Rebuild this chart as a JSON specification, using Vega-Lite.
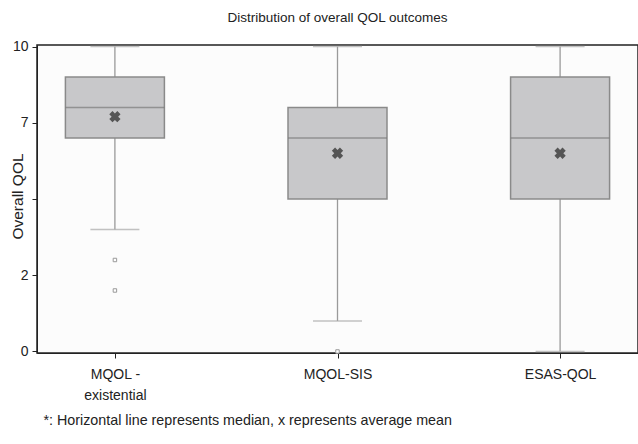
{
  "$schema": "https://vega.github.io/schema/vega-lite/v6.json",
  "autosize": "none",
  "width": 601,
  "height": 308,
  "padding": {"left": 37, "top": 45, "right": 0, "bottom": 91},
  "background": "#ffffff",
  "config": {
    "font": "Liberation Sans",
    "view": {"fill": "#fcfcfc", "stroke": "#222222", "strokeWidth": 1.5},
    "axis": {"grid": false, "domainColor": "#222222", "tickColor": "#222222", "labelColor": "#222222", "titleColor": "#222222", "labelFont": "Liberation Sans", "titleFont": "Liberation Sans", "titleFontWeight": "normal"}
  },
  "title": {"text": "Distribution of overall QOL outcomes", "fontSize": 13.5, "fontWeight": "normal", "color": "#222222", "offset": 15, "anchor": "middle"},
  "datasets": {
    "boxes": [
      {"group": "MQOL - existential", "lower": 4, "q1": 7, "median": 8, "q3": 9, "upper": 10, "mean": 7.7},
      {"group": "MQOL-SIS", "lower": 1, "q1": 5, "median": 7, "q3": 8, "upper": 10, "mean": 6.5},
      {"group": "ESAS-QOL", "lower": 0, "q1": 5, "median": 7, "q3": 9, "upper": 10, "mean": 6.5}
    ],
    "outliers": [
      {"group": "MQOL - existential", "value": 3},
      {"group": "MQOL - existential", "value": 2},
      {"group": "MQOL-SIS", "value": 0}
    ]
  },
  "encoding": {
    "x": {
      "field": "group", "type": "nominal",
      "sort": ["MQOL - existential", "MQOL-SIS", "ESAS-QOL"],
      "scale": {"type": "point", "padding": 0.35},
      "axis": {
        "title": "*: Horizontal line represents median, x represents average mean",
        "titleFontSize": 14.3, "titleAnchor": "start", "titleAlign": "left", "titleX": 6, "titleY": 67, "titleBaseline": "middle",
        "labelFontSize": 14, "labelAngle": 0, "labelPadding": 9, "tickSize": 5, "labelLineHeight": 21,
        "labelExpr": "datum.label == 'MQOL - existential' ? ['MQOL -', 'existential'] : datum.label"
      }
    }
  },
  "layer": [
    {
      "data": {"name": "boxes"},
      "mark": {"type": "rule", "color": "#9a9a9a", "strokeWidth": 1.3},
      "encoding": {
        "y": {"field": "lower", "type": "quantitative", "scale": {"domain": [-0.05, 10.05], "nice": false, "zero": false},
          "axis": {"title": "Overall QOL", "titleFontSize": 15.5, "titleAngle": -90, "titleX": -20, "titleY": 151, "titleAlign": "center", "titleBaseline": "middle", "labelFontSize": 14, "labelPadding": 4, "tickSize": 5, "values": [0, 2.5, 5, 7.5, 10], "labelExpr": "datum.value == 5 ? '' : format(floor(datum.value), 'd')"}},
        "y2": {"field": "upper"}
      }
    },
    {
      "data": {"name": "boxes"},
      "mark": {"type": "tick", "color": "#a8a8a8", "size": 49, "thickness": 1.5},
      "encoding": {"y": {"field": "lower", "type": "quantitative"}}
    },
    {
      "data": {"name": "boxes"},
      "mark": {"type": "tick", "color": "#a8a8a8", "size": 49, "thickness": 1.5},
      "encoding": {"y": {"field": "upper", "type": "quantitative"}}
    },
    {
      "data": {"name": "boxes"},
      "mark": {"type": "bar", "fill": "#c8c8ca", "stroke": "#8a8a8a", "strokeWidth": 1.5, "size": 99},
      "encoding": {"y": {"field": "q1", "type": "quantitative"}, "y2": {"field": "q3"}}
    },
    {
      "data": {"name": "boxes"},
      "mark": {"type": "tick", "color": "#7a7a7a", "size": 99, "thickness": 1.5},
      "encoding": {"y": {"field": "median", "type": "quantitative"}}
    },
    {
      "data": {"name": "boxes"},
      "mark": {"type": "point", "shape": "cross", "angle": 45, "filled": true, "color": "#555555", "size": 130, "opacity": 1},
      "encoding": {"y": {"field": "mean", "type": "quantitative"}}
    },
    {
      "data": {"name": "outliers"},
      "mark": {"type": "point", "shape": "square", "filled": false, "fill": "#ffffff", "stroke": "#999999", "strokeWidth": 1, "size": 12, "opacity": 1},
      "encoding": {"y": {"field": "value", "type": "quantitative"}}
    }
  ]
}
